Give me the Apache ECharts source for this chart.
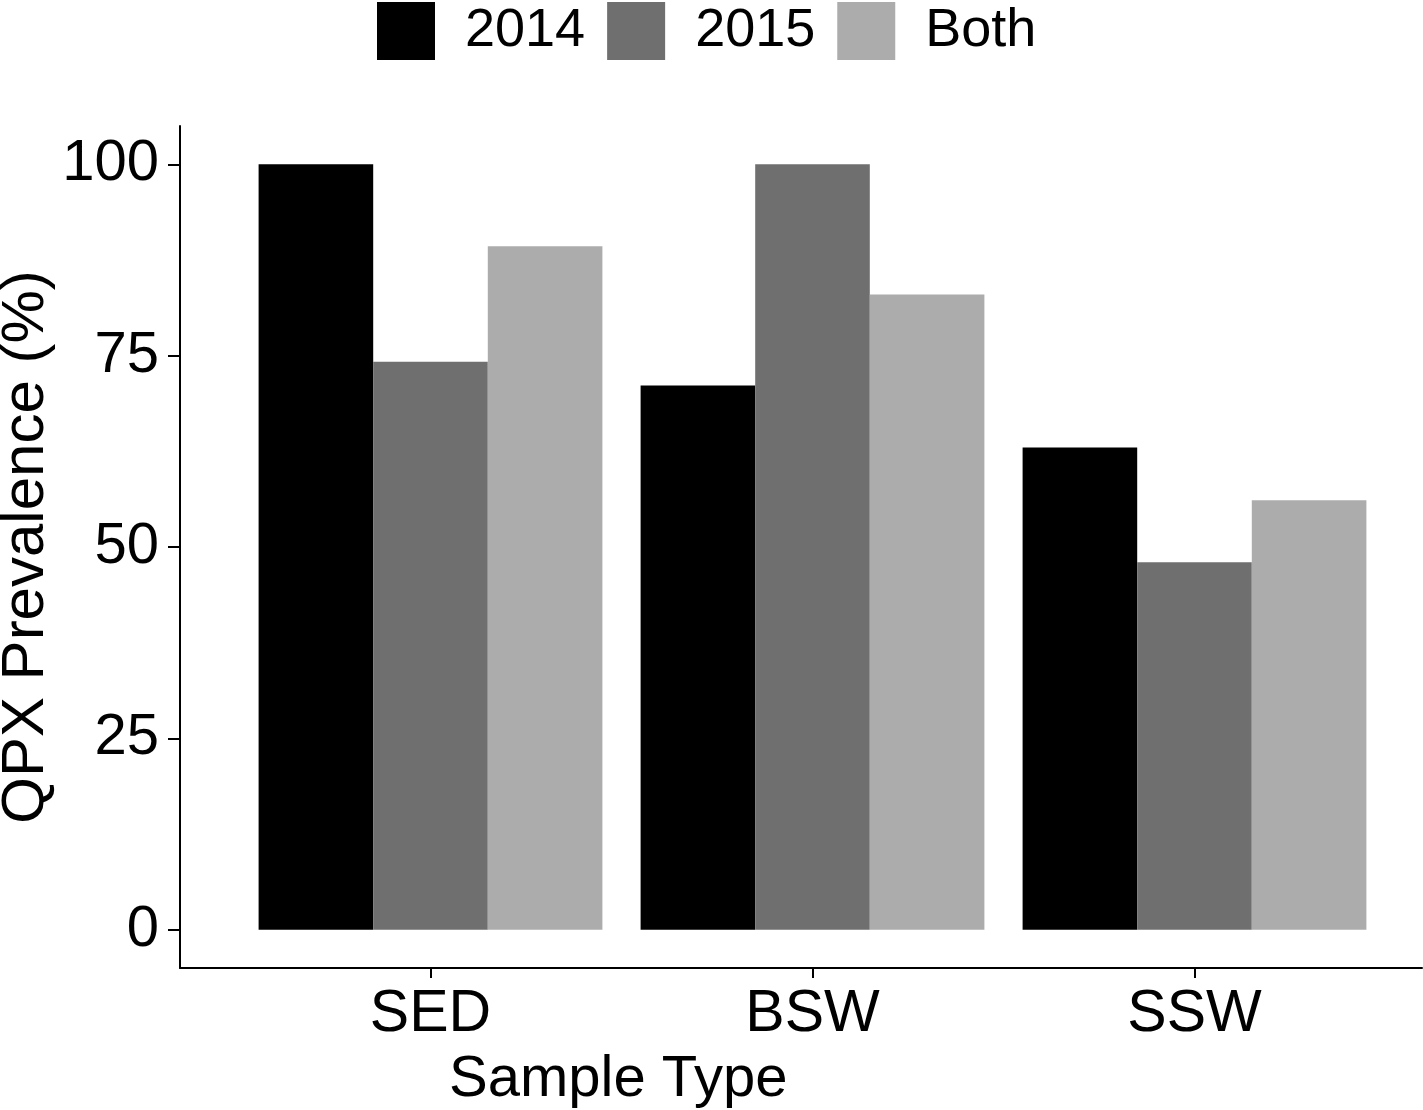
<!DOCTYPE html>
<html lang="en">
  <head>
    <meta charset="UTF-8" />
    <title>QPX Prevalence</title>
    <script src="https://cdn.jsdelivr.net/npm/echarts@6.0.0/dist/echarts.min.js"></script>
    <style>
      html, body { margin: 0; padding: 0; background: #fff; }
      #main { width: 1423px; height: 1110px; }
    </style>
  </head>
  <body>
    <div id="main"></div>
    <script>
      // data
      const categories = ['SED', 'BSW', 'SSW']
      const seriesNames = ['2014', '2015', 'Both']
      const prev2014 = [100, 71.1, 63.0]
      const prev2015 = [74.2, 100, 48.0]
      const prevBoth = [89.3, 83.0, 56.1]
      const yTicks = [0, 25, 50, 75, 100]

      const colors = ['#000000', '#6f6f6f', '#acacac']
      const font = 'Liberation Sans, Arial, sans-serif'
      const values = [prev2014, prev2015, prevBoth]

      const myChart = echarts.init(document.getElementById('main'))

      const option = {
        animation: false,
        title: {
          text: 'Sample Type',
          left: 449,
          top: 1051,
          padding: 0,
          textStyle: { fontFamily: font, fontSize: 58, fontWeight: 'normal', color: '#000' },
        },
        legend: {
          data: seriesNames,
          left: 377,
          top: 2,
          padding: 0,
          icon: 'rect',
          itemWidth: 58,
          itemHeight: 58,
          itemGap: 22,
          textStyle: {
            fontFamily: font,
            fontSize: 54,
            color: '#000',
            padding: [5, 0, 0, 25],
          },
        },
        grid: [
          // outer panel: axis lines + y ticks
          { left: 180, right: 1, top: 126, bottom: 142, containLabel: false, outerBoundsMode: 'none' },
          // inner band for the bars (ggplot-like discrete expansion)
          { left: 239.5, right: 37.5, top: 126, bottom: 142, containLabel: false, outerBoundsMode: 'none' },
        ],
        xAxis: [
          {
            type: 'value',
            gridIndex: 0,
            min: 0,
            max: 1,
            axisLine: { show: true, onZero: false, lineStyle: { color: '#000', width: 2 } },
            axisTick: { show: false },
            axisLabel: { show: false },
            splitLine: { show: false },
          },
          {
            type: 'category',
            gridIndex: 1,
            data: categories,
            axisLine: { show: false, onZero: false },
            axisTick: { show: true, alignWithLabel: true, length: 10, lineStyle: { color: '#000', width: 2 } },
            axisLabel: { fontFamily: font, fontSize: 59, color: '#000', margin: 17 },
            splitLine: { show: false },
          },
        ],
        yAxis: [
          {
            type: 'value',
            gridIndex: 0,
            min: -5,
            max: 105,
            name: 'QPX Prevalence (%)',
            nameLocation: 'middle',
            nameGap: 124,
            nameMoveOverlap: false,
            nameTextStyle: { fontFamily: font, fontSize: 60, color: '#000' },
            axisLine: { show: true, lineStyle: { color: '#000', width: 2 } },
            axisTick: { show: true, length: 12, customValues: yTicks, lineStyle: { color: '#000', width: 2 } },
            axisLabel: { fontFamily: font, fontSize: 58, color: '#000', margin: 21, customValues: yTicks },
            splitLine: { show: false },
          },
          {
            type: 'value',
            gridIndex: 1,
            min: -5,
            max: 105,
            show: false,
          },
        ],
        series: seriesNames.map((name, i) => ({
          name: name,
          type: 'bar',
          xAxisIndex: 1,
          yAxisIndex: 1,
          data: values[i],
          barGap: '0%',
          barCategoryGap: '10%',
          itemStyle: { color: colors[i] },
        })),
      }

      myChart.setOption(option)
    </script>
  </body>
</html>
